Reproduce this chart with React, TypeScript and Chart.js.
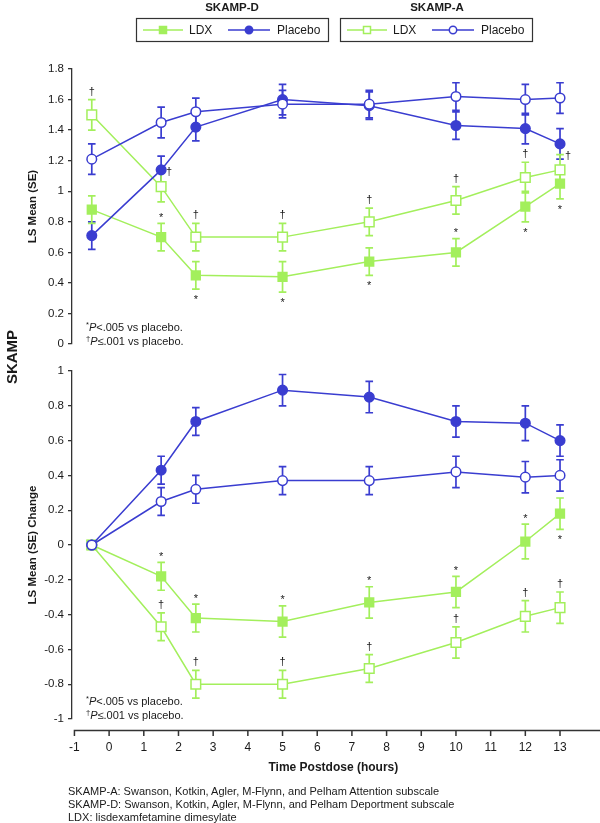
import React, { useEffect, useRef } from 'react';
import { Chart, registerables } from 'chart.js';

Chart.register(...registerables);

// ---------------- data ----------------
const times = [-0.5, 1.5, 2.5, 5, 7.5, 10, 12, 13];
const xTickValues = [-1, 0, 1, 2, 3, 4, 5, 6, 7, 8, 9, 10, 11, 12, 13];
const topYTicks = [0, 0.2, 0.4, 0.6, 0.8, 1, 1.2, 1.4, 1.6, 1.8];
const bottomYTicks = [-1, -0.8, -0.6, -0.4, -0.2, 0, 0.2, 0.4, 0.6, 0.8, 1];

const legendGroups = ['SKAMP-D', 'SKAMP-A'];
const legendItems = ['LDX', 'Placebo'];

// Top panel: LS Mean (SE)
const topLdxD = [0.88, 0.70, 0.45, 0.44, 0.54, 0.60, 0.90, 1.05];
const topLdxDSe = [0.09, 0.09, 0.09, 0.10, 0.09, 0.09, 0.10, 0.10];
const topLdxDSig = ['', '*', '*', '*', '*', '*', '*', '*'];
const topLdxDSigPos = ['', 'above', 'below', 'below', 'below', 'above', 'below', 'below'];

const topPlaceboD = [0.71, 1.14, 1.42, 1.60, 1.56, 1.43, 1.41, 1.31];
const topPlaceboDSe = [0.09, 0.09, 0.09, 0.10, 0.09, 0.09, 0.10, 0.10];

const topLdxA = [1.50, 1.03, 0.70, 0.70, 0.80, 0.94, 1.09, 1.14];
const topLdxASe = [0.10, 0.10, 0.09, 0.09, 0.09, 0.09, 0.10, 0.10];
const topLdxASig = ['†', '†', '†', '†', '†', '†', '†', '†'];
const topLdxASigPos = ['above', 'right', 'above', 'above', 'above', 'above', 'above', 'right'];

const topPlaceboA = [1.21, 1.45, 1.52, 1.57, 1.57, 1.62, 1.60, 1.61];
const topPlaceboASe = [0.10, 0.10, 0.09, 0.09, 0.09, 0.09, 0.10, 0.10];

// Bottom panel: LS Mean (SE) Change
const botLdxD = [0, -0.18, -0.42, -0.44, -0.33, -0.27, 0.02, 0.18];
const botLdxDSe = [0, 0.08, 0.08, 0.09, 0.09, 0.09, 0.10, 0.09];
const botLdxDSig = ['', '*', '*', '*', '*', '*', '*', '*'];
const botLdxDSigPos = ['', 'above', 'above', 'above', 'above', 'above', 'above', 'below'];

const botPlaceboD = [0, 0.43, 0.71, 0.89, 0.85, 0.71, 0.70, 0.60];
const botPlaceboDSe = [0, 0.08, 0.08, 0.09, 0.09, 0.09, 0.10, 0.09];

const botLdxA = [0, -0.47, -0.80, -0.80, -0.71, -0.56, -0.41, -0.36];
const botLdxASe = [0, 0.08, 0.08, 0.08, 0.08, 0.09, 0.09, 0.09];
const botLdxASig = ['', '†', '†', '†', '†', '†', '†', '†'];
const botLdxASigPos = ['', 'above', 'above', 'above', 'above', 'above', 'above', 'above'];

const botPlaceboA = [0, 0.25, 0.32, 0.37, 0.37, 0.42, 0.39, 0.40];
const botPlaceboASe = [0, 0.08, 0.08, 0.08, 0.08, 0.09, 0.09, 0.09];

const pNoteMarks = ['*', '†'];
const pNoteTexts = ['<.005 vs placebo.', '≤.001 vs placebo.'];

const footnotes = [
  'SKAMP-A: Swanson, Kotkin, Agler, M-Flynn, and Pelham Attention subscale',
  'SKAMP-D: Swanson, Kotkin, Agler, M-Flynn, and Pelham Deportment subscale',
  'LDX: lisdexamfetamine dimesylate',
];

// ---------------- style ----------------
const GREEN = '#a3ef5c';
const BLUE = '#3a3dd0';
const AXIS = '#333';
const TEXT = '#1a1a1a';
const FONT = "'Liberation Sans', Arial, Helvetica, sans-serif";

type Kind = 'ldxD' | 'placeboD' | 'ldxA' | 'placeboA';

function makeDataset(kind: Kind, values: number[], se: number[], sig?: string[], sigPos?: string[]) {
  const isLdx = kind === 'ldxD' || kind === 'ldxA';
  const filled = kind === 'ldxD' || kind === 'placeboD';
  const color = isLdx ? GREEN : BLUE;
  const orderMap: Record<Kind, number> = { placeboA: 1, placeboD: 2, ldxA: 3, ldxD: 4 };
  return {
    label: kind,
    data: times.map((t, i) => ({ x: t, y: values[i] })),
    errors: se,
    sig: sig || [],
    sigPos: sigPos || [],
    borderColor: color,
    backgroundColor: color,
    borderWidth: 1.5,
    tension: 0,
    pointStyle: isLdx ? 'rect' : 'circle',
    pointRadius: isLdx ? (filled ? 6.2 : 6.8) : 4.8,
    pointBackgroundColor: filled ? color : '#ffffff',
    pointBorderColor: color,
    pointBorderWidth: 1.5,
    order: orderMap[kind],
  };
}

const errorBarPlugin = {
  id: 'errorBars',
  beforeDatasetsDraw(chart: any) {
    const { ctx } = chart;
    const xs = chart.scales.x;
    const ys = chart.scales.y;
    chart.data.datasets.forEach((ds: any) => {
      ds.errors.forEach((e: number, i: number) => {
        if (!e) return;
        const p = ds.data[i];
        const px = xs.getPixelForValue(p.x);
        const top = ys.getPixelForValue(p.y + e);
        const bot = ys.getPixelForValue(p.y - e);
        ctx.save();
        ctx.strokeStyle = ds.borderColor;
        ctx.lineWidth = 1.7;
        ctx.beginPath();
        ctx.moveTo(px, top);
        ctx.lineTo(px, bot);
        ctx.moveTo(px - 3.8, top);
        ctx.lineTo(px + 3.8, top);
        ctx.moveTo(px - 3.8, bot);
        ctx.lineTo(px + 3.8, bot);
        ctx.stroke();
        ctx.restore();
      });
    });
  },
};

const sigPlugin = {
  id: 'sigMarks',
  afterDatasetsDraw(chart: any) {
    const { ctx } = chart;
    const xs = chart.scales.x;
    const ys = chart.scales.y;
    ctx.save();
    ctx.fillStyle = TEXT;
    ctx.font = `11px ${FONT}`;
    ctx.textAlign = 'center';
    ctx.textBaseline = 'middle';
    chart.data.datasets.forEach((ds: any) => {
      ds.sig.forEach((s: string, i: number) => {
        if (!s) return;
        const p = ds.data[i];
        const e = ds.errors[i];
        const px = xs.getPixelForValue(p.x);
        const pos = ds.sigPos[i];
        const corr = s === '*' ? 2.5 : 0;
        if (pos === 'above') {
          ctx.fillText(s, px, ys.getPixelForValue(p.y + e) - 8 + corr);
        } else if (pos === 'below') {
          ctx.fillText(s, px, ys.getPixelForValue(p.y - e) + 8.5 + corr);
        } else if (pos === 'right') {
          ctx.fillText(s, px + 8, ys.getPixelForValue(p.y + e) + 1 + corr);
        }
      });
    });
    ctx.restore();
  },
};

const legendPlugin = {
  id: 'legendBoxes',
  afterDraw(chart: any) {
    const { ctx } = chart;
    const boxLefts = [136, 340];
    const titleCenters = [232, 437];
    ctx.save();
    legendGroups.forEach((g, gi) => {
      const bx = boxLefts[gi];
      const filled = gi === 0;
      ctx.fillStyle = TEXT;
      ctx.font = `bold 11.5px ${FONT}`;
      ctx.textAlign = 'center';
      ctx.textBaseline = 'middle';
      ctx.fillText(g, titleCenters[gi], 7.5);
      ctx.strokeStyle = AXIS;
      ctx.lineWidth = 1.2;
      ctx.strokeRect(bx + 0.5, 18.5, 192, 23);
      const cy = 30;
      const items = [
        { x0: bx + 7, x1: bx + 47, m: bx + 27, t: bx + 53, color: GREEN, shape: 'rect' },
        { x0: bx + 92, x1: bx + 134, m: bx + 113, t: bx + 141, color: BLUE, shape: 'circle' },
      ];
      items.forEach((it, ii) => {
        ctx.strokeStyle = it.color;
        ctx.lineWidth = 1.5;
        ctx.beginPath();
        ctx.moveTo(it.x0, cy);
        ctx.lineTo(it.x1, cy);
        ctx.stroke();
        ctx.fillStyle = filled ? it.color : '#fff';
        ctx.beginPath();
        if (it.shape === 'rect') {
          ctx.rect(it.m - 3.5, cy - 3.5, 7, 7);
        } else {
          ctx.arc(it.m, cy, 3.7, 0, Math.PI * 2);
        }
        ctx.fill();
        ctx.stroke();
        ctx.fillStyle = TEXT;
        ctx.font = `12px ${FONT}`;
        ctx.textAlign = 'left';
        ctx.fillText(legendItems[ii], it.t, cy + 0.5);
      });
    });
    ctx.restore();
  },
};

const offsetXAxisPlugin = {
  id: 'offsetXAxis',
  afterDraw(chart: any) {
    const { ctx, chartArea } = chart;
    const xs = chart.scales.x;
    const y = chartArea.bottom + 11.5;
    ctx.save();
    ctx.strokeStyle = AXIS;
    ctx.lineWidth = 1.5;
    ctx.beginPath();
    ctx.moveTo(xs.getPixelForValue(xTickValues[0]) - 0.75, y);
    ctx.lineTo(chart.width, y);
    xTickValues.forEach((v) => {
      const px = xs.getPixelForValue(v);
      ctx.moveTo(px, y);
      ctx.lineTo(px, y + 5.5);
    });
    ctx.stroke();
    ctx.restore();
  },
};

const fmt = (v: any) => String(parseFloat(Number(v).toFixed(1)));

function yScale(min: number, max: number, ticks: number[], title: string) {
  return {
    type: 'linear',
    min,
    max,
    afterBuildTicks: (s: any) => {
      s.ticks = ticks.map((v) => ({ value: v }));
    },
    afterFit: (s: any) => {
      s.width = 72;
    },
    grid: { drawOnChartArea: false, drawTicks: true, tickLength: 4, color: AXIS, lineWidth: 1.3 },
    border: { display: true, color: AXIS, width: 1.3 },
    ticks: { font: { family: FONT, size: 11.5 }, color: TEXT, padding: 4, callback: fmt, autoSkip: false },
    title: {
      display: true,
      text: title,
      font: { family: FONT, size: 11.5, weight: 'bold' },
      color: TEXT,
      padding: { top: 26, bottom: 0 },
    },
  };
}

function topConfig(): any {
  return {
    type: 'line',
    data: {
      datasets: [
        makeDataset('placeboA', topPlaceboA, topPlaceboASe),
        makeDataset('placeboD', topPlaceboD, topPlaceboDSe),
        makeDataset('ldxA', topLdxA, topLdxASe, topLdxASig, topLdxASigPos),
        makeDataset('ldxD', topLdxD, topLdxDSe, topLdxDSig, topLdxDSigPos),
      ],
    },
    options: {
      responsive: false,
      maintainAspectRatio: false,
      animation: false,
      events: [],
      layout: { padding: { top: 69, bottom: 8, left: 0, right: 0 } },
      plugins: { legend: { display: false }, tooltip: { enabled: false } },
      scales: {
        x: { type: 'linear', min: -1.07, max: 14, display: false },
        y: yScale(0, 1.8, topYTicks, 'LS Mean (SE)'),
      },
    },
    plugins: [errorBarPlugin, sigPlugin, legendPlugin],
  };
}

function bottomConfig(): any {
  return {
    type: 'line',
    data: {
      datasets: [
        makeDataset('placeboA', botPlaceboA, botPlaceboASe),
        makeDataset('placeboD', botPlaceboD, botPlaceboDSe),
        makeDataset('ldxA', botLdxA, botLdxASe, botLdxASig, botLdxASigPos),
        makeDataset('ldxD', botLdxD, botLdxDSe, botLdxDSig, botLdxDSigPos),
      ],
    },
    options: {
      responsive: false,
      maintainAspectRatio: false,
      animation: false,
      events: [],
      layout: { padding: { top: 16, bottom: 0, left: 0, right: 0 } },
      plugins: { legend: { display: false }, tooltip: { enabled: false } },
      scales: {
        x: {
          type: 'linear',
          min: -1.07,
          max: 14,
          afterBuildTicks: (s: any) => {
            s.ticks = xTickValues.map((v) => ({ value: v }));
          },
          afterFit: (s: any) => {
            s.height = 104;
          },
          grid: { display: false, drawTicks: false },
          border: { display: false },
          ticks: {
            font: { family: FONT, size: 12 },
            color: TEXT,
            padding: 21,
            maxRotation: 0,
            autoSkip: false,
            callback: (v: any) => String(v),
          },
          title: {
            display: true,
            text: 'Time Postdose (hours)',
            font: { family: FONT, size: 12, weight: 'bold' },
            color: TEXT,
            padding: { top: 0, bottom: 48 },
          },
        },
        y: yScale(-1, 1, bottomYTicks, 'LS Mean (SE) Change'),
      },
    },
    plugins: [errorBarPlugin, sigPlugin, offsetXAxisPlugin],
  };
}

function PNote({ top }: { top: number }) {
  return (
    <div
      style={{
        position: 'absolute',
        left: 86,
        top,
        fontSize: 11,
        lineHeight: '13px',
        whiteSpace: 'nowrap',
        color: TEXT,
      }}
    >
      {pNoteTexts.map((t, i) => (
        <div key={i}>
          <span style={{ fontSize: 7.5, position: 'relative', top: -3.5 }}>{pNoteMarks[i]}</span>
          <i>P</i>
          {t}
        </div>
      ))}
    </div>
  );
}

export default function App() {
  const topRef = useRef<HTMLCanvasElement>(null);
  const botRef = useRef<HTMLCanvasElement>(null);

  useEffect(() => {
    const top = new Chart(topRef.current as HTMLCanvasElement, topConfig());
    const bot = new Chart(botRef.current as HTMLCanvasElement, bottomConfig());
    return () => {
      top.destroy();
      bot.destroy();
    };
  }, []);

  return (
    <div
      style={{
        position: 'absolute',
        left: 0,
        top: 0,
        width: 600,
        height: 823,
        overflow: 'hidden',
        background: '#fff',
        fontFamily: FONT,
        color: TEXT,
      }}
    >
      <canvas
        ref={topRef}
        width={603}
        height={355}
        style={{ position: 'absolute', left: 0, top: 0, width: 603, height: 355 }}
      />
      <canvas
        ref={botRef}
        width={603}
        height={468}
        style={{ position: 'absolute', left: 0, top: 355, width: 603, height: 468 }}
      />
      <div
        style={{
          position: 'absolute',
          left: 10.5,
          top: 357,
          transform: 'translate(-50%, -50%) rotate(-90deg)',
          fontWeight: 'bold',
          fontSize: 15,
          whiteSpace: 'nowrap',
          lineHeight: '15px',
        }}
      >
        SKAMP
      </div>
      <PNote top={320.5} />
      <PNote top={694.5} />
      <div
        style={{
          position: 'absolute',
          left: 68,
          top: 784.5,
          fontSize: 11,
          lineHeight: '13px',
          whiteSpace: 'nowrap',
        }}
      >
        {footnotes.map((f, i) => (
          <div key={i}>{f}</div>
        ))}
      </div>
    </div>
  );
}
